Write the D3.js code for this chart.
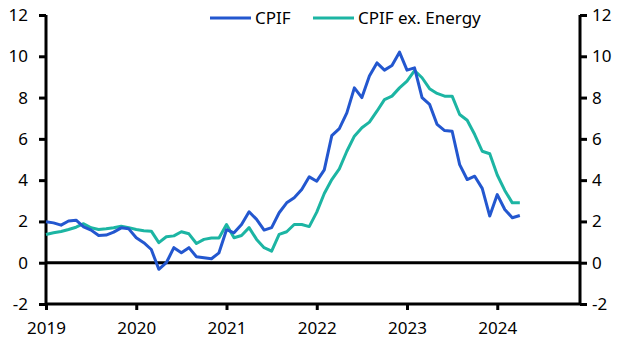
<!DOCTYPE html>
<html>
<head>
<meta charset="utf-8">
<script src="https://cdn.jsdelivr.net/npm/d3@7"></script>
<style>
  body { margin: 0; background: #fff; }
  svg text { font-family: "Noto Sans", "Open Sans", sans-serif; fill: #000; }
</style>
</head>
<body>
<div id="chart-area"></div>
<script>
// monthly, Jan 2019 .. Apr 2024
var cpif = [
	1.98, 1.93, 1.82, 2.02, 2.06, 1.74, 1.58, 1.32, 1.34, 1.48, 1.69, 1.64,
	1.21, 0.97, 0.64, -0.32, 0.0, 0.73, 0.48, 0.73, 0.29, 0.24, 0.19, 0.48,
	1.6, 1.45, 1.85, 2.47, 2.1, 1.58, 1.7, 2.42, 2.9, 3.15, 3.55, 4.16,
	3.95, 4.5, 6.16, 6.5, 7.26, 8.47, 8.0, 9.04, 9.68, 9.33, 9.55, 10.2,
	9.33, 9.44, 8.0, 7.67, 6.7, 6.4, 6.37, 4.75, 4.03, 4.19, 3.6, 2.26,
	3.3, 2.58, 2.18, 2.29
];
var cpifExEnergy = [
	1.37, 1.45, 1.51, 1.61, 1.72, 1.89, 1.69, 1.61, 1.64, 1.69, 1.77, 1.7,
	1.61, 1.55, 1.53, 0.97, 1.26, 1.3, 1.5, 1.4, 0.93, 1.13, 1.2, 1.2,
	1.85, 1.21, 1.32, 1.7, 1.13, 0.73, 0.56, 1.37, 1.5, 1.85, 1.85, 1.75,
	2.45, 3.35, 4.03, 4.55, 5.4, 6.13, 6.54, 6.81, 7.34, 7.9, 8.07, 8.47,
	8.8, 9.31, 8.96, 8.43, 8.2, 8.07, 8.07, 7.18, 6.9, 6.21, 5.4, 5.28,
	4.25, 3.5, 2.9, 2.9
];
var yearLabels = ["2019", "2020", "2021", "2022", "2023", "2024"];
var yTicks = [-2, 0, 2, 4, 6, 8, 10, 12];
var seriesNames = ["CPIF", "CPIF ex. Energy"];
var colors = ["#2357cf", "#1cb5a3"];

var margin = {top: 15, left: 46, bottom: 50, right: 50};
var width = 630 - margin.left - margin.right;
var height = 354 - margin.top - margin.bottom;

var svg = d3.select("#chart-area")
	.append("svg")
		.attr("width", 630)
		.attr("height", 354);
var g = svg.append("g")
		.attr("transform", "translate(" + margin.left + ", " + margin.top + ")");

// month index scale, 2019-01 = 0 .. 2024-12 = 71
var x = d3.scaleLinear()
	.domain([0, 71])
	.range([0, width]);

var y = d3.scaleLinear()
	.domain([-2, 12])
	.range([height, 0]);

var fmt = function(d){ return String(d); }; // plain hyphen for negatives

// axes
var xAxisCall = d3.axisBottom(x)
	.tickValues(yearLabels.map(function(d, i){ return i * 12; }))
	.tickFormat(function(d, i){ return yearLabels[i]; })
	.tickSize(6)
	.tickPadding(12);
var xAxis = g.append("g")
	.attr("transform", "translate(0, " + height + ")")
	.call(xAxisCall);

var yAxisLeft = g.append("g")
	.call(d3.axisLeft(y).tickValues(yTicks).tickFormat(fmt).tickSize(7).tickPadding(11));

var yAxisRight = g.append("g")
	.attr("transform", "translate(" + width + ", 0)")
	.call(d3.axisRight(y).tickValues(yTicks).tickFormat(fmt).tickSize(7).tickPadding(5));

[xAxis, yAxisLeft, yAxisRight].forEach(function(a){
	a.select(".domain").attr("stroke", "#000").attr("stroke-width", 3)
		.attr("d", a === xAxis ? "M0,0H" + width : "M0,0V" + height);
	a.selectAll(".tick line").attr("stroke", "#000").attr("stroke-width", 3);
	a.selectAll(".tick text").attr("font-size", "17px")
		.style("font-family", "'Noto Sans', sans-serif");
});

// zero line
g.append("line")
	.attr("x1", 0).attr("x2", width)
	.attr("y1", y(0)).attr("y2", y(0))
	.attr("stroke", "#000")
	.attr("stroke-width", 3);

// lines
var line = d3.line()
	.x(function(d, i){ return x(i); })
	.y(function(d){ return y(d); });

[cpifExEnergy, cpif].forEach(function(s, k){
	g.append("path")
		.datum(s)
		.attr("fill", "none")
		.attr("stroke", colors[1 - k])
		.attr("stroke-width", 3)
		.attr("stroke-linejoin", "round")
		.attr("d", line);
});

// legend
var legendX = [164, 267];
seriesNames.forEach(function(name, i){
	var lg = g.append("g").attr("transform", "translate(" + legendX[i] + ", 3)");
	lg.append("line")
		.attr("x1", 0).attr("x2", 41)
		.attr("stroke", colors[i])
		.attr("stroke-width", 3);
	lg.append("text")
		.attr("x", 45)
		.attr("y", 6)
		.attr("font-size", "17px")
		.text(name);
});
</script>
</body>
</html>
